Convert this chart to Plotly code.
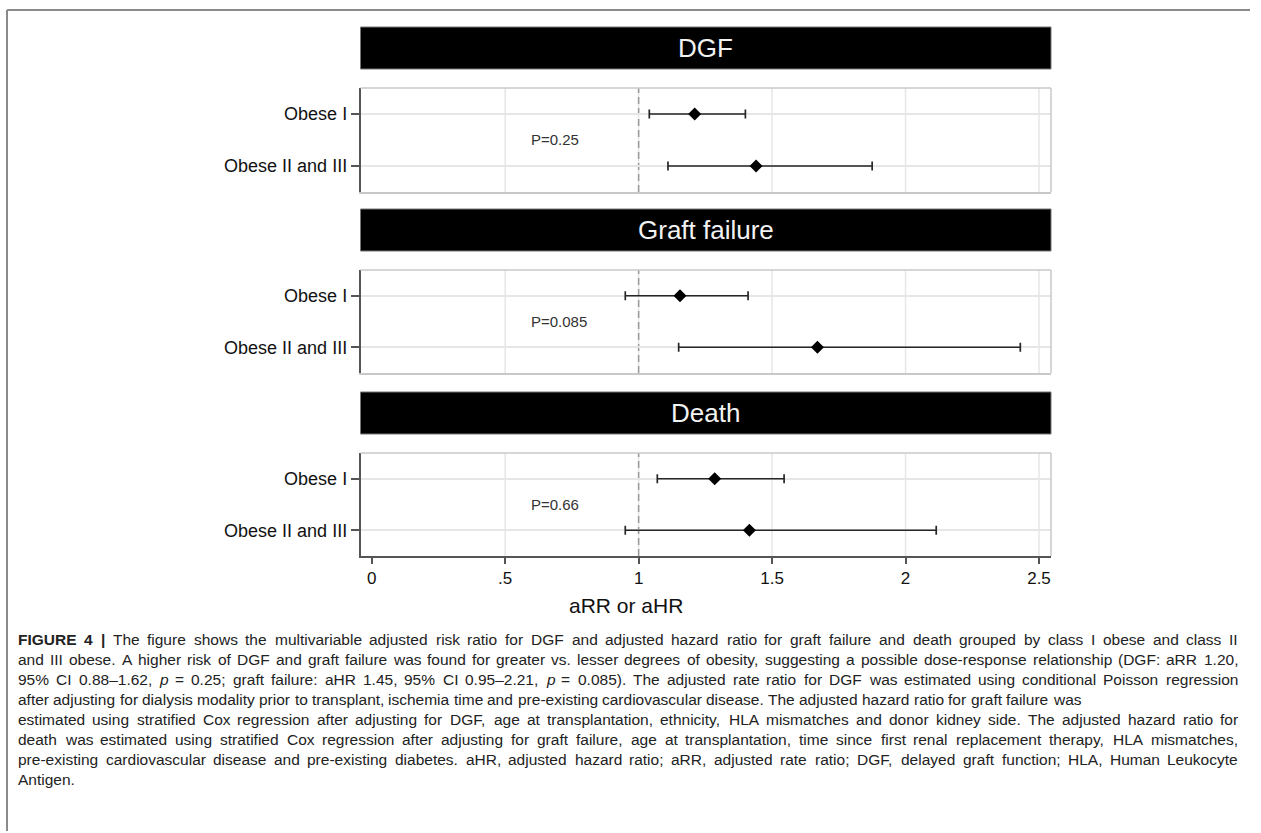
import re
import plotly.graph_objects as go

# ---------------- data ----------------
categories = ["Obese I", "Obese II and III"]
outcomes = ["DGF", "Graft failure", "Death"]
dgf_est = [1.21, 1.44]
dgf_lo = [1.04, 1.11]
dgf_hi = [1.40, 1.875]
graft_est = [1.155, 1.67]
graft_lo = [0.95, 1.15]
graft_hi = [1.41, 2.43]
death_est = [1.285, 1.415]
death_lo = [1.07, 0.95]
death_hi = [1.545, 2.115]
p_labels = ["P=0.25", "P=0.085", "P=0.66"]
x_ticks = [0, 0.5, 1, 1.5, 2, 2.5]
x_ticktext = ["0", ".5", "1", "1.5", "2", "2.5"]
ref_value = 1
x_title = "aRR or aHR"

caption_lines = [
    "<b>FIGURE</b> <b>4</b> <b>|</b> The figure shows the multivariable adjusted risk ratio for DGF and adjusted hazard ratio for graft failure and death grouped by class I obese and class II",
    "and III obese. A higher risk of DGF and graft failure was found for greater vs. lesser degrees of obesity, suggesting a possible dose-response relationship (DGF: aRR 1.20,",
    "95% CI 0.88–1.62, <i>p</i> = 0.25; graft failure: aHR 1.45, 95% CI 0.95–2.21, <i>p</i> = 0.085). The adjusted rate ratio for DGF was estimated using conditional Poisson regression",
    "after adjusting for dialysis modality prior to transplant, ischemia time and pre-existing cardiovascular disease. The adjusted hazard ratio for graft failure was",
    "estimated using stratified Cox regression after adjusting for DGF, age at transplantation, ethnicity, HLA mismatches and donor kidney side. The adjusted hazard ratio for",
    "death was estimated using stratified Cox regression after adjusting for graft failure, age at transplantation, time since first renal replacement therapy, HLA mismatches,",
    "pre-existing cardiovascular disease and pre-existing diabetes. aHR, adjusted hazard ratio; aRR, adjusted rate ratio; DGF, delayed graft function; HLA, Human Leukocyte",
    "Antigen.",
]

est_all = [dgf_est, graft_est, death_est]
lo_all = [dgf_lo, graft_lo, death_lo]
hi_all = [dgf_hi, graft_hi, death_hi]

# ---------------- layout geometry (pixels) ----------------
W, H = 1261, 833
FONT = "Liberation Sans, Arial, Helvetica, sans-serif"
def px_x(p):
    return p / W
def px_y(p):
    return 1 - p / H

plot_left, plot_right = 360.5, 1051
tops = [88, 270, 453]
bottoms = [192, 373, 556]

fig = go.Figure()
shapes = []
annotations = []

for i in range(3):
    k = "" if i == 0 else str(i + 1)
    xa, ya = "x" + k, "y" + k
    est, lo, hi = est_all[i], lo_all[i], hi_all[i]
    fig.add_trace(go.Scatter(
        x=est, y=categories, mode="markers",
        marker=dict(symbol="diamond", size=10, color="black"),
        error_x=dict(type="data", symmetric=False,
                     array=[h - e for h, e in zip(hi, est)],
                     arrayminus=[e - l for e, l in zip(est, lo)],
                     color="#262626", thickness=1.7, width=4.5),
        xaxis=xa, yaxis=ya, showlegend=False, cliponaxis=False,
        hoverinfo="skip"))
    last = (i == 2)
    fig.layout["xaxis" + k] = dict(
        domain=[px_x(plot_left), px_x(plot_right)], range=[-0.042, 2.545],
        anchor=ya, tickvals=x_ticks, ticktext=x_ticktext,
        showgrid=False, zeroline=False, showline=True,
        linecolor="#555555" if last else "#c8c8c8", linewidth=1.5,
        ticks="outside" if last else "", ticklen=6, tickwidth=1.5,
        tickcolor="#555555", showticklabels=last,
        tickfont=dict(family=FONT, size=17, color="#111111"))
    fig.layout["yaxis" + k] = dict(
        domain=[px_y(bottoms[i]), px_y(tops[i])], anchor=xa,
        type="category", categoryarray=categories, range=[1.5, -0.5],
        showgrid=True, gridcolor="#e6e6e6", gridwidth=1.5, zeroline=False,
        showline=True, linecolor="#555555", linewidth=1.5,
        ticks="outside", ticklen=8, tickwidth=1.5, tickcolor="#555555",
        tickfont=dict(family=FONT, size=18, color="#111111"))
    for v in x_ticks:
        if v > 0:
            shapes.append(dict(type="line", xref=xa, yref=ya + " domain",
                               x0=v, x1=v, y0=0, y1=1, layer="below",
                               line=dict(color="#e6e6e6", width=1.5)))
    shapes.append(dict(type="line", xref=xa, yref=ya + " domain",
                       x0=ref_value, x1=ref_value, y0=0, y1=1, layer="below",
                       line=dict(color="#9a9a9a", width=1.5, dash="7px,4px")))
    shapes.append(dict(type="line", xref=xa + " domain", yref=ya + " domain",
                       x0=0, x1=1, y0=1, y1=1, line=dict(color="#c8c8c8", width=1.5)))
    shapes.append(dict(type="line", xref=xa + " domain", yref=ya + " domain",
                       x0=1, x1=1, y0=0, y1=1, line=dict(color="#c8c8c8", width=1.5)))
    htop, hbot = tops[i] - 61, tops[i] - 19
    shapes.append(dict(type="rect", xref=xa + " domain", yref="paper",
                       x0=0, x1=1, y0=px_y(hbot), y1=px_y(htop),
                       fillcolor="black", line=dict(color="#777777", width=1)))
    annotations.append(dict(text=outcomes[i], xref=xa + " domain", yref="paper",
                            x=0.5, y=px_y((htop + hbot) / 2), showarrow=False,
                            xanchor="center", yanchor="middle",
                            font=dict(family=FONT, size=26, color="#f2f2f2")))
    annotations.append(dict(text=p_labels[i], xref=xa, yref=ya + " domain",
                            x=0.588, y=0.5, showarrow=False, xanchor="left",
                            yanchor="middle",
                            font=dict(family=FONT, size=15, color="#333333")))

annotations.append(dict(text=x_title, xref="paper", yref="paper",
                        x=px_x(626), y=px_y(605), showarrow=False,
                        xanchor="center", yanchor="middle",
                        font=dict(family=FONT, size=21, color="#111111")))

# outer frame of figure: top and left edges, kept inside the canvas
shapes.append(dict(type="line", xref="paper", yref="paper",
                   x0=px_x(7), x1=px_x(1250), y0=px_y(10), y1=px_y(10),
                   line=dict(color="#8a8a8a", width=2)))
shapes.append(dict(type="line", xref="paper", yref="paper",
                   x0=px_x(7), x1=px_x(7), y0=px_y(10), y1=px_y(831),
                   line=dict(color="#8a8a8a", width=2)))

# ---------------- caption (justified, Arial metrics) ----------------
AW = {' ': 278, ',': 278, '.': 278, ':': 278, ';': 278, '-': 333, '(': 333, ')': 333,
      '=': 584, '–': 556, '|': 280, '%': 889,
      'A': 667, 'B': 667, 'C': 722, 'D': 722, 'E': 667, 'F': 611, 'G': 778, 'H': 722,
      'I': 278, 'J': 500, 'K': 667, 'L': 556, 'M': 833, 'N': 722, 'O': 778, 'P': 667,
      'Q': 778, 'R': 722, 'S': 667, 'T': 611, 'U': 722, 'V': 667, 'W': 944, 'X': 667,
      'Y': 667, 'Z': 611,
      'a': 556, 'b': 556, 'c': 500, 'd': 556, 'e': 556, 'f': 278, 'g': 556, 'h': 556,
      'i': 222, 'j': 222, 'k': 500, 'l': 222, 'm': 833, 'n': 556, 'o': 556, 'p': 556,
      'q': 556, 'r': 333, 's': 500, 't': 278, 'u': 556, 'v': 500, 'w': 722, 'x': 500,
      'y': 500, 'z': 500}

def em_w(word):
    plain = re.sub(r"<[^>]+>", "", word)
    return sum(AW.get(c, 556) for c in plain) / 1000.0

cap_left, cap_right = 18, 1238
line_targets = [cap_right, cap_right, cap_right, 1067, cap_right, cap_right, cap_right, None]
nat = []
for ln in caption_lines:
    ws = ln.split(" ")
    nat.append(sum(em_w(w) for w in ws) + 0.278 * (len(ws) - 1))
fs = min((t - cap_left) / n for t, n in zip(line_targets, nat) if t == cap_right)
fs = min(fs, 15.5)

for li, ln in enumerate(caption_lines):
    ws = ln.split(" ")
    widths = [em_w(w) * fs for w in ws]
    t = line_targets[li]
    if t is None or len(ws) < 2:
        gap = 0.278 * fs
    else:
        gap = max(0.278 * fs, ((t - cap_left) - sum(widths)) / (len(ws) - 1))
    xc = cap_left
    yc = 639 + 20.1 * li
    for w, wd in zip(ws, widths):
        annotations.append(dict(text=w, xref="paper", yref="paper",
                                x=px_x(xc - 2), y=px_y(yc), showarrow=False,
                                xanchor="left", yanchor="middle",
                                font=dict(family=FONT, size=fs, color="#222222")))
        xc += wd + gap

fig.update_layout(width=W, height=H, margin=dict(l=0, r=0, t=0, b=0),
                  paper_bgcolor="white", plot_bgcolor="white",
                  shapes=shapes, annotations=annotations, showlegend=False)

fig.write_html("out.html")
